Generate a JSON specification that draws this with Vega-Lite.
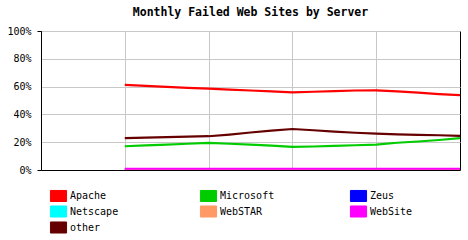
{
  "$schema": "https://vega.github.io/schema/vega-lite/v6.json",
  "autosize": "none",
  "width": 419,
  "height": 139,
  "padding": {"left": 41, "top": 31, "right": 8, "bottom": 70},
  "background": "white",
  "config": {
    "view": {"stroke": "black", "strokeWidth": 1},
    "font": "DejaVu Sans Mono"
  },
  "title": {
    "text": "Monthly Failed Web Sites by Server",
    "font": "DejaVu Sans Mono",
    "fontSize": 11.5,
    "fontWeight": "bold",
    "color": "black",
    "anchor": "middle",
    "offset": 8
  },
  "data": {
    "values": [
      {"m": 4, "Apache": 61.2, "Microsoft": 17.1, "Zeus": 0.2, "Netscape": 0.2, "WebSTAR": 0.2, "WebSite": 0.9, "other": 22.9},
      {"m": 5, "Apache": 60.5, "Microsoft": 17.7, "Zeus": 0.2, "Netscape": 0.2, "WebSTAR": 0.2, "WebSite": 0.9, "other": 23.3},
      {"m": 6, "Apache": 59.8, "Microsoft": 18.3, "Zeus": 0.2, "Netscape": 0.2, "WebSTAR": 0.2, "WebSite": 0.9, "other": 23.6},
      {"m": 7, "Apache": 59.1, "Microsoft": 18.9, "Zeus": 0.2, "Netscape": 0.2, "WebSTAR": 0.2, "WebSite": 0.9, "other": 24.0},
      {"m": 8, "Apache": 58.5, "Microsoft": 19.5, "Zeus": 0.2, "Netscape": 0.2, "WebSTAR": 0.2, "WebSite": 0.9, "other": 24.3},
      {"m": 9, "Apache": 57.8, "Microsoft": 18.9, "Zeus": 0.2, "Netscape": 0.2, "WebSTAR": 0.2, "WebSite": 0.9, "other": 25.5},
      {"m": 10, "Apache": 57.2, "Microsoft": 18.2, "Zeus": 0.2, "Netscape": 0.2, "WebSTAR": 0.2, "WebSite": 0.9, "other": 27.0},
      {"m": 11, "Apache": 56.5, "Microsoft": 17.5, "Zeus": 0.2, "Netscape": 0.2, "WebSTAR": 0.2, "WebSite": 0.9, "other": 28.3},
      {"m": 12, "Apache": 55.9, "Microsoft": 16.7, "Zeus": 0.2, "Netscape": 0.2, "WebSTAR": 0.2, "WebSite": 0.9, "other": 29.5},
      {"m": 13, "Apache": 56.3, "Microsoft": 16.9, "Zeus": 0.2, "Netscape": 0.2, "WebSTAR": 0.2, "WebSite": 0.9, "other": 28.6},
      {"m": 14, "Apache": 56.7, "Microsoft": 17.3, "Zeus": 0.2, "Netscape": 0.2, "WebSTAR": 0.2, "WebSite": 0.9, "other": 27.6},
      {"m": 15, "Apache": 57.2, "Microsoft": 17.8, "Zeus": 0.2, "Netscape": 0.2, "WebSTAR": 0.2, "WebSite": 0.9, "other": 26.8},
      {"m": 16, "Apache": 57.3, "Microsoft": 18.3, "Zeus": 0.2, "Netscape": 0.2, "WebSTAR": 0.2, "WebSite": 0.9, "other": 26.1},
      {"m": 17, "Apache": 56.5, "Microsoft": 19.6, "Zeus": 0.2, "Netscape": 0.2, "WebSTAR": 0.2, "WebSite": 0.9, "other": 25.7},
      {"m": 18, "Apache": 55.6, "Microsoft": 20.5, "Zeus": 0.2, "Netscape": 0.2, "WebSTAR": 0.2, "WebSite": 0.9, "other": 25.3},
      {"m": 19, "Apache": 54.6, "Microsoft": 21.6, "Zeus": 0.2, "Netscape": 0.2, "WebSTAR": 0.2, "WebSite": 0.9, "other": 25.0},
      {"m": 20, "Apache": 53.8, "Microsoft": 23.0, "Zeus": 0.2, "Netscape": 0.2, "WebSTAR": 0.2, "WebSite": 0.9, "other": 24.5}
    ]
  },
  "transform": [
    {"fold": ["Zeus", "Netscape", "WebSTAR", "WebSite", "other", "Microsoft", "Apache"], "as": ["server", "pct"]}
  ],
  "mark": {"type": "line", "clip": true, "strokeWidth": 2.2, "interpolate": "linear"},
  "encoding": {
    "x": {
      "field": "m",
      "type": "quantitative",
      "scale": {"domain": [0, 20], "nice": false, "zero": false},
      "axis": {
        "title": null,
        "labels": false,
        "ticks": false,
        "domain": true,
        "domainColor": "black",
        "grid": true,
        "gridColor": "#c8c8c8",
        "values": [4, 8, 12, 16]
      }
    },
    "y": {
      "field": "pct",
      "type": "quantitative",
      "scale": {"domain": [0, 100], "nice": false},
      "axis": {
        "title": null,
        "values": [0, 20, 40, 60, 80, 100],
        "labelExpr": "datum.value + '%'",
        "labelFont": "DejaVu Sans Mono",
        "labelFontSize": 10,
        "labelColor": "black",
        "labelPadding": 6,
        "tickSize": 4,
        "tickColor": {"condition": {"test": "datum.value == 0 || datum.value == 100", "value": "black"}, "value": "transparent"},
        "domainColor": "black",
        "grid": true,
        "gridColor": "#c8c8c8"
      }
    },
    "color": {
      "field": "server",
      "type": "nominal",
      "scale": {
        "domain": ["Apache", "Microsoft", "Zeus", "Netscape", "WebSTAR", "WebSite", "other"],
        "range": ["#ff0000", "#00cc00", "#0000ff", "#00ffff", "#ff9966", "#ff00ff", "#660000"]
      },
      "legend": {
        "title": null,
        "orient": "none",
        "direction": "horizontal",
        "legendX": 10,
        "legendY": 157,
        "columns": 3,
        "gridAlign": "all",
        "columnPadding": 73,
        "rowPadding": -4,
        "symbolType": "M-1.15,-0.79L1.15,-0.79L1.15,0.79L-1.15,0.79Z",
        "symbolSize": 196,
        "symbolStrokeWidth": 1,
        "symbolStrokeColor": "black",
        "labelFont": "DejaVu Sans Mono",
        "labelFontSize": 10,
        "labelColor": "black",
        "labelOffset": 4,
        "encode": {
          "symbols": {
            "update": {
              "fill": {"scale": "color", "field": "value"},
              "stroke": {"value": "black"},
              "strokeWidth": {"value": 1},
              "opacity": {"value": 1},
              "fillOpacity": {"value": 1}
            }
          }
        }
      }
    }
  }
}
